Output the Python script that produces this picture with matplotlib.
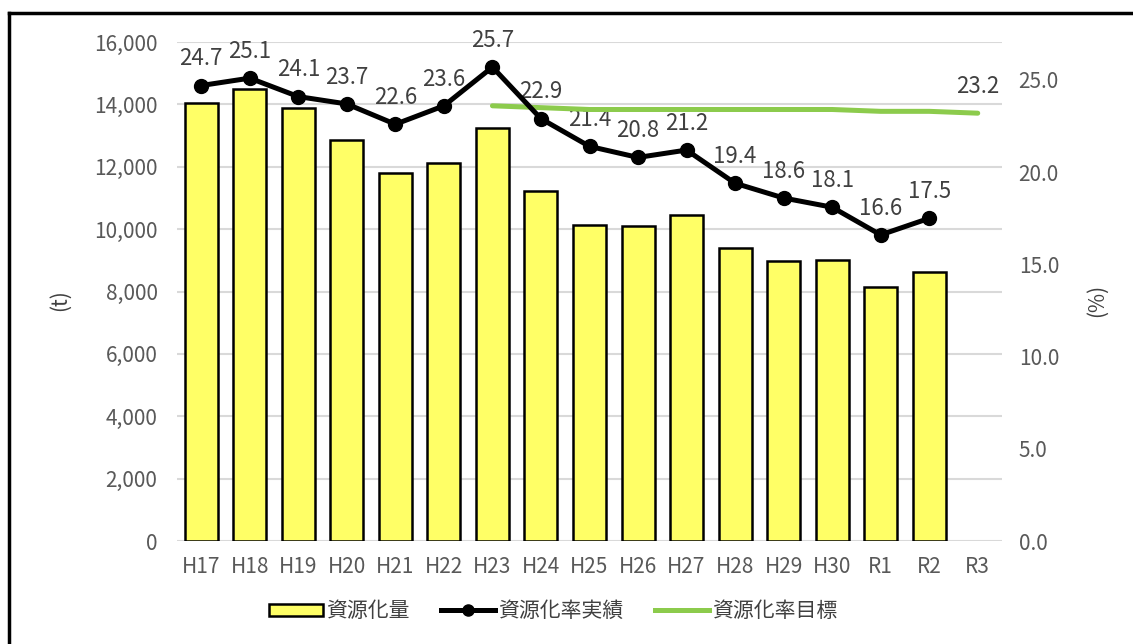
import matplotlib
matplotlib.use("Agg")
import matplotlib.pyplot as plt
import numpy as np
from matplotlib.lines import Line2D
from matplotlib.patches import Patch

plt.rcParams['font.family'] = ['Noto Sans CJK JP', 'DejaVu Sans']

categories = ["H17", "H18", "H19", "H20", "H21", "H22", "H23", "H24", "H25",
              "H26", "H27", "H28", "H29", "H30", "R1", "R2", "R3"]
amount = [14050, 14480, 13890, 12860, 11800, 12120, 13240, 11220, 10130,
          10100, 10450, 9390, 8980, 9010, 8140, 8620, None]
rate_actual = [24.7, 25.1, 24.1, 23.7, 22.6, 23.6, 25.7, 22.9, 21.4,
               20.8, 21.2, 19.4, 18.6, 18.1, 16.6, 17.5, None]
rate_target = [None, None, None, None, None, None, 23.6, 23.5, 23.4,
               23.4, 23.4, 23.4, 23.4, 23.4, 23.3, 23.3, 23.2]
left_ticks = [0, 2000, 4000, 6000, 8000, 10000, 12000, 14000, 16000]
right_ticks = [0, 5, 10, 15, 20, 25]

W, H = 1133, 644
fig = plt.figure(figsize=(W / 100, H / 100), dpi=100)
ax = fig.add_axes([177 / W, 1 - 541 / H, (1002 - 177) / W, (541 - 42) / H])
ax2 = ax.twinx()

x = np.arange(len(categories))
bar_x = [xi for xi, v in zip(x, amount) if v is not None]
bar_v = [v for v in amount if v is not None]
ax.bar(bar_x, bar_v, width=0.68, color="#FFFF66", edgecolor="black",
       linewidth=1.8, zorder=3)

ax.set_xlim(-0.5, len(categories) - 0.5)
ax.set_ylim(0, 16000)
ax.set_yticks(left_ticks)
ax.set_yticklabels([f"{t:,}" for t in left_ticks])
ax.set_xticks(x)
ax.set_xticklabels(categories)
ax.grid(axis="y", color="#D9D9D9", linewidth=1.5, zorder=0)
ax.set_axisbelow(True)
for s in ax.spines.values():
    s.set_visible(False)
for s in ax2.spines.values():
    s.set_visible(False)
ax.tick_params(axis="both", length=0, colors="#595959", labelsize=15)
ax.tick_params(axis="y", pad=14)
ax.tick_params(axis="x", pad=11)

# actual rate
ax_x = [xi for xi, v in zip(x, rate_actual) if v is not None]
ax_v = [v for v in rate_actual if v is not None]
ax2.plot(ax_x, ax_v, color="black", linewidth=3.6, marker="o",
         markersize=10, zorder=5)
for xi, v in zip(ax_x, ax_v):
    ax2.annotate(f"{v:.1f}", (xi, v), xytext=(0, 11), textcoords="offset points",
                 ha="center", va="bottom", fontsize=16, color="#404040")

# target rate
tx = [xi for xi, v in zip(x, rate_target) if v is not None]
tv = [v for v in rate_target if v is not None]
ax2.plot(tx, tv, color="#8CCB4C", linewidth=3.6, zorder=4, solid_capstyle="round")
ax2.annotate(f"{tv[-1]:.1f}", (tx[-1], tv[-1]), xytext=(0, 11),
             textcoords="offset points", ha="center", va="bottom",
             fontsize=16, color="#404040")

ax2.set_ylim(0, 27.06)
ax2.set_yticks(right_ticks)
ax2.set_yticklabels([f"{t:.1f}" for t in right_ticks])
ax2.tick_params(axis="y", length=0, colors="#595959", labelsize=15, pad=12)
ax2.set_zorder(ax.get_zorder() + 1)
ax2.patch.set_visible(False)

fig.text(60 / W, 1 - 300 / H, "(t)", rotation=90, ha="center", va="center",
         fontsize=15, color="#404040")
fig.text(1097 / W, 1 - 300 / H, "(%)", rotation=90, ha="center", va="center",
         fontsize=15, color="#404040")

handles = [
    Patch(facecolor="#FFFF66", edgecolor="black", linewidth=1.8),
    Line2D([0], [0], color="black", linewidth=3.6, marker="o", markersize=8),
    Line2D([0], [0], color="#8CCB4C", linewidth=3.6),
]
labels = ["資源化量", "資源化率実績", "資源化率目標"]
fig.legend(handles, labels, loc="center", bbox_to_anchor=(553 / W, 1 - 611 / H),
           ncol=3, frameon=False, fontsize=15, handlelength=2.6,
           handleheight=0.5, columnspacing=1.5, handletextpad=0.15,
           labelcolor="#404040")

# outer frame
fig.add_artist(Line2D([9 / W, 9 / W], [0, 1 - 13 / H], transform=fig.transFigure,
                      color="black", linewidth=2.5))
fig.add_artist(Line2D([9 / W, 1], [1 - 13 / H, 1 - 13 / H], transform=fig.transFigure,
                      color="black", linewidth=2.5))

fig.savefig("out.png", dpi=100, facecolor="white")
